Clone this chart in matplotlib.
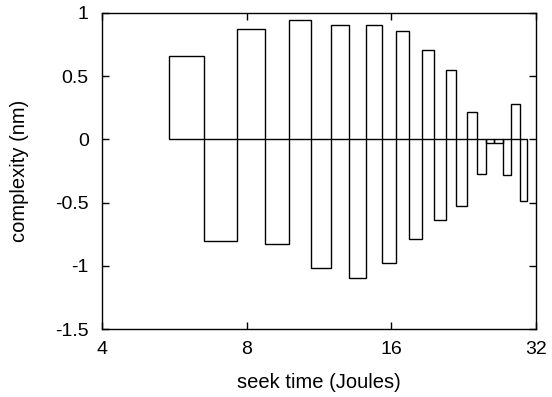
import matplotlib
matplotlib.use("Agg")
import matplotlib.pyplot as plt
import numpy as np

plt.rcParams['font.family'] = ['Liberation Sans', 'DejaVu Sans']

# bar edges (seek time, Joules)
bin_edges = [5.52, 6.52, 7.63, 8.72, 9.81, 10.91, 12.0, 13.08, 14.17, 15.28,
             16.38, 17.43, 18.56, 19.65, 20.76, 21.84, 22.96, 24.08, 25.15,
             26.2, 27.29, 28.39, 29.6, 30.66]
complexity = [0.662, -0.804, 0.871, -0.825, 0.942, -1.02, 0.909, -1.094,
              0.905, -0.975, 0.86, -0.786, 0.71, -0.64, 0.551, -0.527,
              0.214, -0.271, -0.031, -0.031, -0.284, 0.278, -0.49]
xticks = [4, 8, 16, 32]
yticks = [-1.5, -1, -0.5, 0, 0.5, 1]
ytick_labels = ["-1.5", "-1", "-0.5", "0", "0.5", "1"]

W, H = 552, 397
L, R, T, B = 102, 536, 13, 329

fig = plt.figure(figsize=(W/100, H/100), dpi=100)
ax = fig.add_axes([L/W, 1-B/H, (R-L)/W, (B-T)/H])

edges = np.array(bin_edges)
lefts = edges[:-1]
widths = np.diff(edges)
ax.bar(lefts, complexity, width=widths, align='edge', fill=False,
       edgecolor='black', linewidth=1.0)

ax.set_xscale('log', base=2)
ax.set_xlim(4, 32)
ax.set_ylim(-1.5, 1)
ax.set_xticks(xticks)
ax.set_xticklabels([str(t) for t in xticks])
ax.xaxis.set_minor_locator(matplotlib.ticker.NullLocator())
ax.set_yticks(yticks)
ax.set_yticklabels(ytick_labels)

fs = 14
ax.tick_params(axis='both', which='both', direction='in', length=5, width=1,
               top=True, right=True, labelsize=fs, color='black')
ax.tick_params(axis='x', pad=9)
ax.tick_params(axis='y', pad=9.5)
for s in ax.spines.values():
    s.set_linewidth(1.0)

ax.set_xlabel("seek time (Joules)", fontsize=fs + 0.5, va='center')
ax.xaxis.set_label_coords((319 - L) / (R - L), (B - 382) / (B - T))
ax.set_ylabel("complexity (nm)", fontsize=fs + 0.5, va='center')
ax.yaxis.set_label_coords((20 - L) / (R - L), (B - 171) / (B - T))

fig.savefig("out.png", dpi=100)
